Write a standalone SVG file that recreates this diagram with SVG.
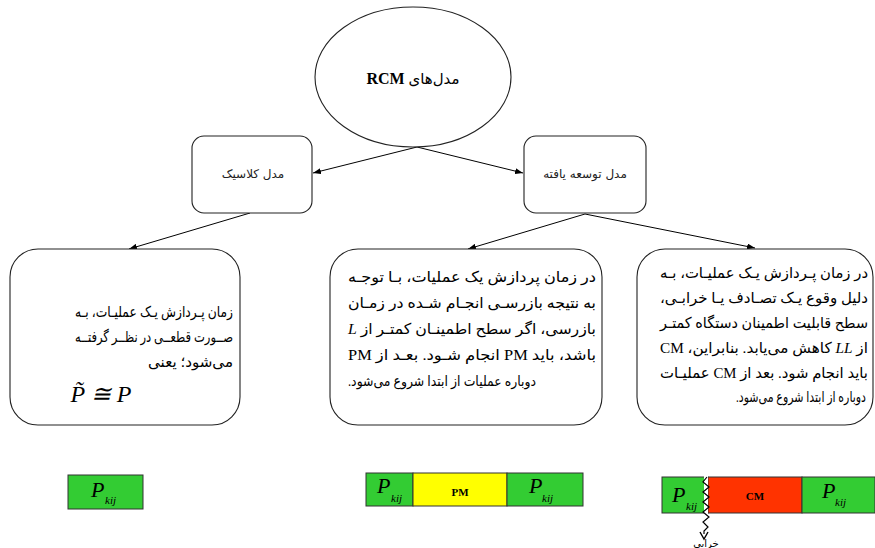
<svg xmlns="http://www.w3.org/2000/svg" width="875" height="548" viewBox="0 0 875 548">
<style>
.box{fill:#fff;stroke:#222;stroke-width:1.1}
.fa{font-family:'Liberation Serif','DejaVu Sans',serif;font-size:15px;fill:#000}
.last{font-size:14px}
.sm{font-family:'DejaVu Sans','Liberation Sans',sans-serif;font-size:12px;fill:#222}
.conn{stroke:#000;stroke-width:1;fill:none}
.it{font-style:italic}
.P{font-family:'Liberation Serif',serif;font-style:italic;font-size:22px;fill:#000}
.sub{font-family:'Liberation Serif',serif;font-style:italic;font-size:11px;fill:#000}
.lab{font-family:'Liberation Serif',serif;font-weight:bold;font-size:11px;fill:#000}
.g{fill:#33cc33;stroke:#333;stroke-width:1}
</style>
<defs>
<marker id="ah" markerWidth="8" markerHeight="6" refX="8" refY="3" orient="auto" markerUnits="userSpaceOnUse">
<path d="M0,0 L8,3 L0,6 z" fill="#000"/>
</marker>
</defs>

<g id="connectors">
<line class="conn" x1="417" y1="147" x2="313" y2="173" marker-end="url(#ah)"/>
<line class="conn" x1="417" y1="147" x2="523" y2="173" marker-end="url(#ah)"/>
<line class="conn" x1="250" y1="213" x2="129" y2="249" marker-end="url(#ah)"/>
<line class="conn" x1="585" y1="214" x2="468" y2="249" marker-end="url(#ah)"/>
<line class="conn" x1="585" y1="214" x2="755" y2="248" marker-end="url(#ah)"/>
</g>

<g id="root">
<ellipse class="box" cx="413" cy="77" rx="98" ry="70"/>
<text x="413" y="84" text-anchor="middle" direction="rtl" font-family="'Liberation Serif','DejaVu Sans',serif" font-size="15">مدل‌های <tspan font-weight="bold" font-size="16">RCM</tspan></text>
</g>

<g id="classic">
<rect class="box" x="192" y="136" width="120" height="77" rx="12"/>
<text class="sm" x="253" y="178" text-anchor="middle" direction="rtl">مدل کلاسیک</text>
</g>

<g id="extended">
<rect class="box" x="524" y="136" width="122" height="77" rx="12"/>
<text class="sm" x="585" y="178" text-anchor="middle" direction="rtl">مدل توسعه یافته</text>
</g>

<g id="box-classic">
<rect class="box" x="10" y="249" width="230" height="176" rx="28"/>
<text class="fa" x="154" y="317" direction="rtl" text-anchor="middle" textLength="158" lengthAdjust="spacingAndGlyphs">زمان پـردازش یـک عملیـات، بـه</text>
<text class="fa" x="154" y="342" direction="rtl" text-anchor="middle" textLength="158" lengthAdjust="spacingAndGlyphs">صــورت قطعــی در نظــر گرفتــه</text>
<text class="fa" x="190.5" y="367" direction="rtl" text-anchor="middle" textLength="85" lengthAdjust="spacingAndGlyphs">می‌شود؛ یعنی</text>
<text x="101" y="402" text-anchor="middle" font-family="'Liberation Serif','DejaVu Serif',serif" font-size="24" font-style="italic">P&#x303; ≅ P</text>
</g>

<g id="box-pm">
<rect class="box" x="330" y="249" width="272" height="176" rx="28"/>
<text class="fa" x="472" y="282" direction="rtl" text-anchor="middle" textLength="248" lengthAdjust="spacingAndGlyphs">در زمان پردازش یک عملیات، بـا توجـه</text>
<text class="fa" x="472" y="308" direction="rtl" text-anchor="middle" textLength="248" lengthAdjust="spacingAndGlyphs">به نتیجه بازرسـی انجـام شـده در زمـان</text>
<text class="fa" x="472" y="334" direction="rtl" text-anchor="middle" textLength="248" lengthAdjust="spacingAndGlyphs">بازرسی، اگر سطح اطمینـان کمتـر از <tspan class="it">L</tspan></text>
<text class="fa" x="472" y="360" direction="rtl" text-anchor="middle" textLength="248" lengthAdjust="spacingAndGlyphs">باشد، باید PM انجام شـود. بعـد از PM</text>
<text class="fa last" x="442" y="386" direction="rtl" text-anchor="middle" textLength="188" lengthAdjust="spacingAndGlyphs">دوباره عملیات از ابتدا شروع می‌شود.</text>
</g>

<g id="box-cm">
<rect class="box" x="637" y="249" width="236" height="176" rx="28"/>
<text class="fa" x="764" y="278" direction="rtl" text-anchor="middle" textLength="208" lengthAdjust="spacingAndGlyphs">در زمان پـردازش یـک عملیـات، بـه</text>
<text class="fa" x="764" y="303" direction="rtl" text-anchor="middle" textLength="208" lengthAdjust="spacingAndGlyphs">دلیل وقوع یـک تصـادف یـا خرابـی،</text>
<text class="fa" x="764" y="328" direction="rtl" text-anchor="middle" textLength="208" lengthAdjust="spacingAndGlyphs">سطح قابلیت اطمینان دستگاه کمتـر</text>
<text class="fa" x="764" y="353" direction="rtl" text-anchor="middle" textLength="208" lengthAdjust="spacingAndGlyphs">از <tspan class="it">LL</tspan> کاهش می‌یابد. بنابراین، CM</text>
<text class="fa" x="764" y="378" direction="rtl" text-anchor="middle" textLength="208" lengthAdjust="spacingAndGlyphs">باید انجام شود. بعد از CM عملیـات</text>
<text class="fa" x="801" y="402" font-size="13" direction="rtl" text-anchor="middle" textLength="130" lengthAdjust="spacingAndGlyphs">دوباره از ابتدا شروع می‌شود.</text>
</g>

<g id="strip-classic">
<rect class="g" x="68" y="475" width="75" height="34"/>
<text class="P" x="91" y="497">P</text>
<text class="sub" x="105" y="504">kij</text>
</g>

<g id="strip-pm">
<rect class="g" x="366" y="473" width="47" height="33"/>
<rect x="413" y="473" width="94" height="33" fill="#ffff00" stroke="#333" stroke-width="1"/>
<rect class="g" x="507" y="473" width="76" height="33"/>
<text class="P" x="377" y="493">P</text>
<text class="sub" x="391" y="502">kij</text>
<text class="lab" x="460" y="496" text-anchor="middle">PM</text>
<text class="P" x="529" y="493">P</text>
<text class="sub" x="542" y="502">kij</text>
</g>

<g id="strip-cm">
<rect class="g" x="662" y="477" width="46" height="36"/>
<rect x="708" y="477" width="94" height="36" fill="#ff3300" stroke="#333" stroke-width="1"/>
<rect class="g" x="802" y="477" width="73" height="36"/>
<text class="P" x="672" y="502">P</text>
<text class="sub" x="686" y="510">kij</text>
<text class="lab" x="755" y="500" text-anchor="middle">CM</text>
<text class="P" x="822" y="498">P</text>
<text class="sub" x="835" y="506">kij</text>
<rect x="704" y="476" width="4" height="38" fill="#fff"/>
<polyline fill="none" stroke="#000" stroke-width="1.2" points="707,477 703,482 709,487 703,492 709,497 703,502 709,507 703,512 709,517 703,522 708,527 704,531 704,534"/>
<path d="M700,532 L704,539 L708,532" fill="none" stroke="#000" stroke-width="1.4"/>
<text x="706" y="547" text-anchor="middle" font-family="'DejaVu Sans',sans-serif" font-size="10" direction="rtl">خرابی</text>
</g>
</svg>
